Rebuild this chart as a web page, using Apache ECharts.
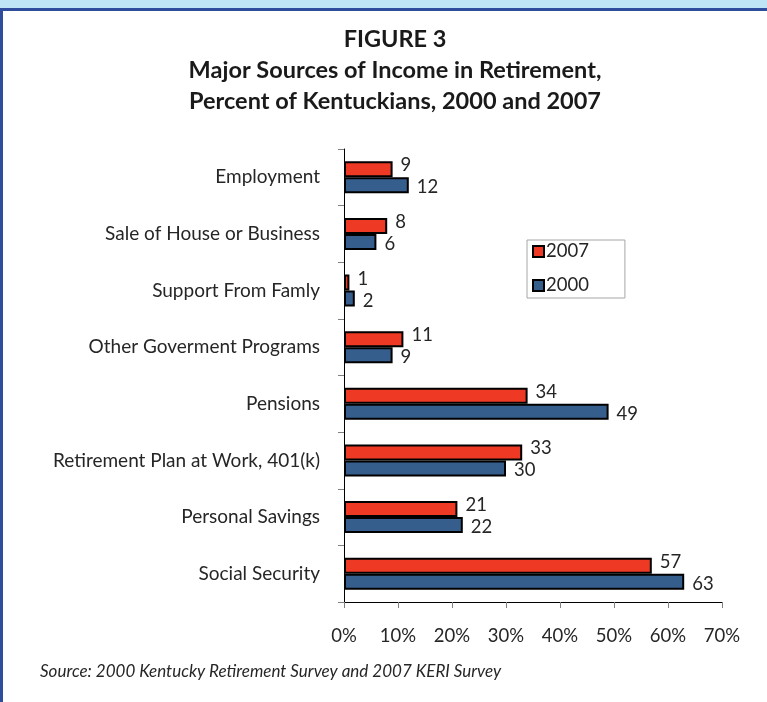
<!DOCTYPE html>
<html>
<head>
<meta charset="utf-8">
<script src="https://cdn.jsdelivr.net/npm/echarts@6/dist/echarts.min.js"></script>
<style>
  html, body { margin: 0; padding: 0; background: #ffffff; }
  #frame { position: relative; width: 767px; height: 702px; overflow: hidden; background: #ffffff; }
  #chart { position: absolute; left: 0; top: 0; width: 767px; height: 702px; }
</style>
</head>
<body>
<div id="frame"><div id="chart"></div></div>
<script>
// Income sources, listed top to bottom
var categories = [
  'Employment',
  'Sale of House or Business',
  'Support From Famly',
  'Other Goverment Programs',
  'Pensions',
  'Retirement Plan at Work, 401(k)',
  'Personal Savings',
  'Social Security'
];
// Percent of respondents naming each source
var values2007 = [9, 8, 1, 11, 34, 33, 21, 57];
var values2000 = [12, 6, 2, 9, 49, 30, 22, 63];
var xTicks = [0, 10, 20, 30, 40, 50, 60, 70];

var FONT = 'Lato, "Open Sans", sans-serif';

var chart = echarts.init(document.getElementById('chart'), null, { renderer: 'canvas' });

function barSeries(name, data, color, labelDy) {
  return {
    name: name,
    type: 'bar',
    data: data,
    barWidth: 16,
    barGap: '0%',
    itemStyle: { color: color, borderColor: '#000000', borderWidth: 2 },
    label: {
      show: true,
      position: 'right',
      distance: 8,
      offset: [0, labelDy],
      color: '#262626',
      fontFamily: FONT,
      fontSize: 18.5
    },
    emphasis: { disabled: true }
  };
}

chart.setOption({
  animation: false,
  backgroundColor: '#ffffff',
  graphic: [
    { type: 'rect', shape: { x: 0, y: 0, width: 767, height: 8 }, style: { fill: '#bfe4f5' } },
    { type: 'rect', shape: { x: 0, y: 8, width: 767, height: 3 }, style: { fill: '#2f4d9c' } },
    { type: 'rect', shape: { x: 0, y: 8, width: 3, height: 694 }, style: { fill: '#2f4d9c' } },
    {
      type: 'text', left: 40, top: 663,
      style: {
        text: 'Source: 2000 Kentucky Retirement Survey and 2007 KERI Survey',
        font: 'italic 17px ' + FONT, fill: '#262626'
      }
    }
  ],
  title: {
    text: 'FIGURE 3\nMajor Sources of Income in Retirement,\nPercent of Kentuckians, 2000 and 2007',
    left: 390,
    textAlign: 'center',
    top: 19,
    textStyle: {
      fontFamily: FONT, fontWeight: 'bold', fontSize: 23.5, lineHeight: 31, color: '#1a1a1a'
    }
  },
  legend: {
    orient: 'vertical',
    left: 527,
    top: 240,
    padding: [2, 36, 3, 5],
    itemGap: 15,
    itemWidth: 11,
    itemHeight: 11,
    borderColor: '#a6a6a6',
    borderWidth: 1,
    icon: 'rect',
    data: ['2007', '2000'],
    textStyle: { fontFamily: FONT, fontSize: 18.5, color: '#262626', padding: [0, 0, 0, -3] }
  },
  grid: { left: 344, right: 45, top: 149, bottom: 100, containLabel: false },
  xAxis: {
    type: 'value',
    min: 0,
    max: 70,
    interval: 10,
    axisLine: { show: true, lineStyle: { color: '#000000', width: 1 } },
    axisTick: { show: true, length: 6, lineStyle: { color: '#808080' } },
    splitLine: { show: false },
    axisLabel: {
      formatter: function (v) { return xTicks.indexOf(v) >= 0 ? v + '%' : ''; },
      margin: 25,
      color: '#262626',
      fontFamily: FONT,
      fontSize: 18.5
    }
  },
  yAxis: {
    type: 'category',
    inverse: true,
    data: categories,
    axisLine: { show: true, lineStyle: { color: '#000000', width: 1 } },
    axisTick: { show: true, length: 6, lineStyle: { color: '#808080' } },
    axisLabel: {
      margin: 24,
      color: '#262626',
      fontFamily: FONT,
      fontSize: 19
    }
  },
  series: [
    barSeries('2007', values2007, '#ee3a24', -4),
    barSeries('2000', values2000, '#355e8c', 2)
  ]
});
</script>
</body>
</html>
